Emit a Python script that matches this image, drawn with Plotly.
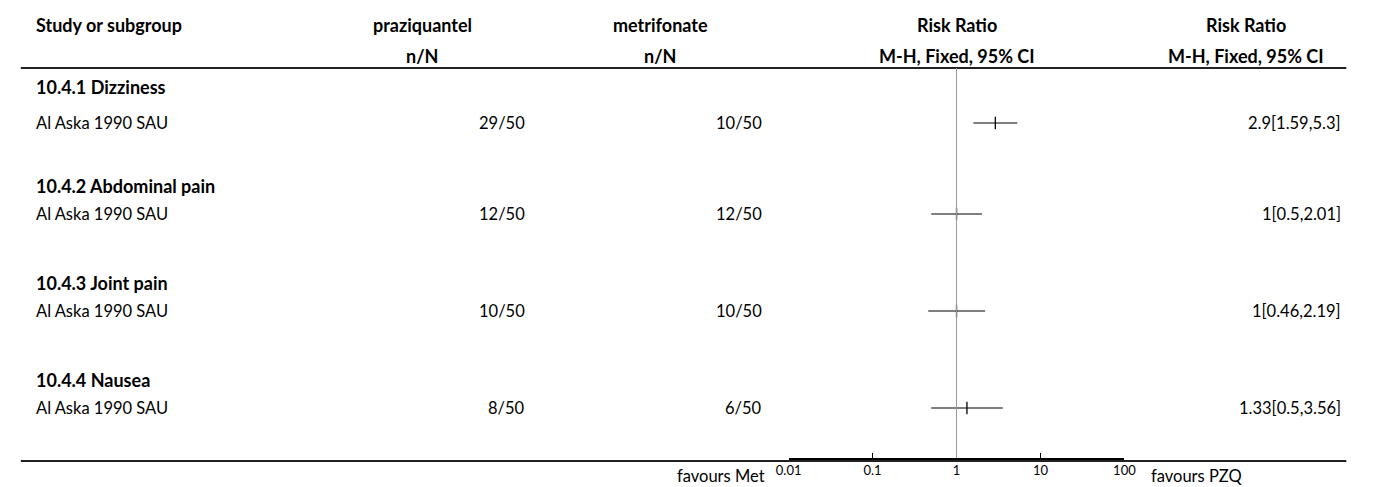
import plotly.graph_objects as go

# ---- data ----
groups = ["10.4.1 Dizziness", "10.4.2 Abdominal pain", "10.4.3 Joint pain", "10.4.4 Nausea"]
studies = ["Al Aska 1990 SAU", "Al Aska 1990 SAU", "Al Aska 1990 SAU", "Al Aska 1990 SAU"]
pzq_nN = ["29/50", "12/50", "10/50", "8/50"]
met_nN = ["10/50", "12/50", "10/50", "6/50"]
rr = [2.9, 1.0, 1.0, 1.33]
rr_lo = [1.59, 0.5, 0.46, 0.5]
rr_hi = [5.3, 2.01, 2.19, 3.56]
rr_text = ["2.9[1.59,5.3]", "1[0.5,2.01]", "1[0.46,2.19]", "1.33[0.5,3.56]"]
tick_vals = [0.01, 0.1, 1, 10, 100]
tick_text = ["0.01", "0.1", "1", "10", "100"]

W, H = 1375, 487
FONT = "Source Sans Pro, Lato, sans-serif"
REG = 16.5
BOLD = 18
AX_BOTTOM = 458

group_y = [87, 186, 283, 380]
study_y = [123, 214, 311, 408]

fig = go.Figure()
fig.add_trace(go.Scatter(
    x=rr, y=study_y, mode="markers",
    marker=dict(symbol="line-ns", size=9, line=dict(color="black", width=1.3), color="black"),
    error_x=dict(type="data", symmetric=False,
                 array=[h - m for h, m in zip(rr_hi, rr)],
                 arrayminus=[m - l for m, l in zip(rr, rr_lo)],
                 color="black", thickness=1.2, width=0),
    hoverinfo="skip", showlegend=False))

ann = []
def txt(x, y, s, anchor="left", bold=False, size=None):
    if size is None:
        size = BOLD if bold else REG
    ann.append(dict(x=x / W, y=1 - y / H, xref="paper", yref="paper",
                    text=("<b>%s</b>" % s) if bold else s,
                    showarrow=False, xanchor=anchor, yanchor="middle",
                    font=dict(family=FONT, size=size, color="black")))

# headers
txt(21, 25, "Study or subgroup", bold=True)
txt(417, 25, "praziquantel", "center", True)
txt(417, 56, "n/N", "center", True)
txt(659, 25, "metrifonate", "center", True)
txt(659, 56, "n/N", "center", True)
txt(961, 25, "Risk Ratio", "center", True)
txt(961, 56, "M-H, Fixed, 95% CI", "center", True)
txt(1256, 25, "Risk Ratio", "center", True)
txt(1256, 56, "M-H, Fixed, 95% CI", "center", True)

for g, gy, s, sy, p, m, t in zip(groups, group_y, studies, study_y, pzq_nN, met_nN, rr_text):
    txt(21, gy, g, bold=True)
    txt(21, sy, s)
    txt(524, sy, p, "right")
    txt(765, sy, m, "right")
    txt(1355, sy, t, "right")

txt(768, 476, "favours Met", "right")
txt(1157, 476, "favours PZQ", "left")

shapes = [
    dict(type="line", xref="paper", yref="paper", x0=8 / W, x1=1358 / W, y0=1 - 68 / H, y1=1 - 68 / H,
         line=dict(color="#222222", width=2)),
    dict(type="line", xref="paper", yref="paper", x0=8 / W, x1=1358 / W, y0=1 - 461 / H, y1=1 - 461 / H,
         line=dict(color="#222222", width=2)),
    dict(type="line", xref="x", yref="paper", x0=1, x1=1, y0=1 - AX_BOTTOM / H, y1=1 - 68 / H,
         line=dict(color="#999999", width=1)),
]

fig.update_layout(
    width=W, height=H, margin=dict(l=0, r=0, t=0, b=0),
    paper_bgcolor="white", plot_bgcolor="white",
    annotations=ann, shapes=shapes,
    xaxis=dict(type="log", domain=[790 / W, 1132 / W], range=[-2, 2],
               tickvals=tick_vals, ticktext=tick_text, ticks="inside", ticklen=5,
               tickcolor="black", showline=True, linecolor="black", linewidth=1.5,
               showgrid=False, zeroline=False,
               tickfont=dict(family=FONT, size=13, color="black")),
    yaxis=dict(domain=[(H - AX_BOTTOM) / H, 1], range=[AX_BOTTOM, 0], visible=False,
               showgrid=False, zeroline=False),
)

fig.write_html("out.html", config={"displayModeBar": False, "staticPlot": True},
               post_script="document.body.style.margin='0';document.body.style.overflow='hidden';")
